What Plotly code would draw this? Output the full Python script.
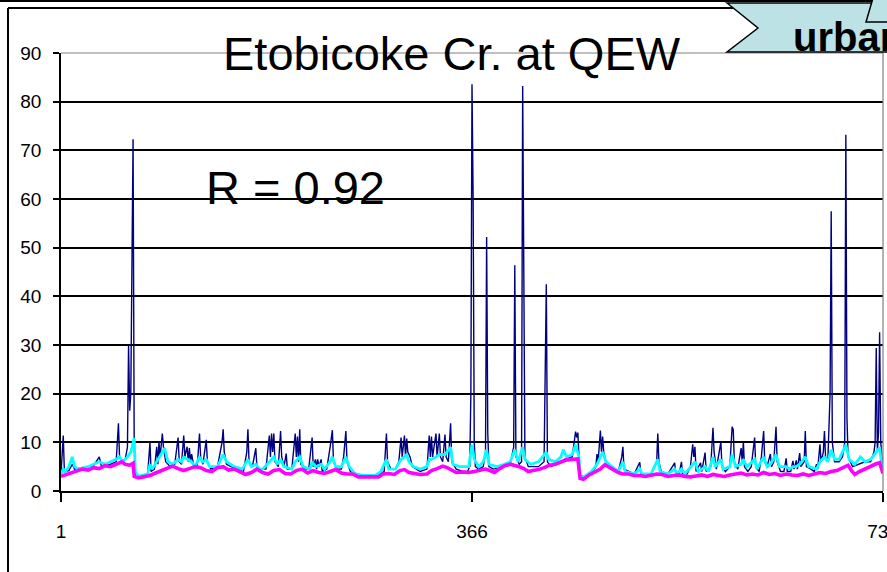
import plotly.graph_objects as go

# ---------------- data (day, flow) ----------------
observed = [
    (1, 3.5), (3, 11.4), (4, 4), (8, 4.2), (11, 5.5), (13, 4.5), (20, 4.8), (30, 5.2), (35, 7), (37, 5),
    (45, 5.5), (50, 6), (52, 13.9), (53, 7), (55, 6), (58, 6.5), (60, 9), (61, 30), (62, 16.5), (63, 20),
    (65, 72.3), (66, 10), (67, 3), (72, 3), (78, 3.5), (80, 10), (81, 4), (84, 4.5), (86, 9.1), (87, 5.5),
    (88, 10.1), (89, 7), (91, 11.8), (92, 9), (94, 6), (98, 5), (102, 5.5), (105, 11), (106, 6), (108, 5.5),
    (110, 11.4), (111, 7), (113, 9.1), (114, 6), (115, 8.8), (116, 6), (117, 7.6), (119, 5), (122, 5), (124, 11.8),
    (125, 7), (127, 5.5), (130, 10.5), (131, 6), (134, 4.5), (140, 5), (144, 10), (145, 12.7), (146, 8), (148, 5.5),
    (152, 5), (158, 4.5), (163, 4), (166, 8), (167, 12.7), (168, 6), (171, 5), (174, 8.8), (175, 5), (178, 4.5),
    (183, 4.5), (186, 11.4), (187, 7), (188, 11.8), (189, 8), (190, 11.8), (191, 6), (194, 5), (196, 12.3), (197, 7),
    (199, 5), (201, 7.7), (202, 4.5), (206, 4.5), (209, 11.8), (210, 7), (211, 11.2), (212, 6), (213, 12.7), (214, 5.5),
    (218, 4.5), (221, 4.5), (224, 11), (225, 5), (227, 6.5), (228, 4.5), (229, 6.5), (230, 5), (232, 6.5), (233, 4),
    (237, 4.5), (240, 9), (241, 11), (242, 12.5), (243, 6), (246, 4.5), (250, 4.5), (252, 7), (254, 12.3), (255, 6),
    (258, 4), (264, 3.5), (270, 3), (280, 3), (284, 3.5), (288, 4), (290, 11.8), (291, 6), (294, 4.5), (298, 4.5),
    (301, 6), (303, 11), (304, 7), (306, 11.4), (307, 7), (308, 10.8), (309, 8), (311, 7), (313, 5), (320, 4),
    (326, 4.5), (328, 11.4), (329, 7), (330, 11.2), (331, 7), (334, 11.8), (335, 7), (337, 11.8), (338, 7), (340, 6),
    (342, 11.6), (343, 7), (345, 6), (347, 13.9), (348, 6), (352, 4.5), (358, 4), (362, 4), (364, 5), (365, 20),
    (366, 83.6), (367, 60), (368, 10), (369, 5), (372, 4.5), (376, 5), (378, 8), (379, 52.2), (380, 12), (381, 5),
    (385, 4.5), (395, 5), (400, 5.5), (403, 9), (404, 46.4), (405, 7), (408, 5.5), (410, 6), (411, 83.2), (412, 30),
    (413, 7), (416, 5), (425, 5), (430, 6), (432, 42.5), (433, 6), (436, 5), (445, 6), (448, 6.5), (455, 7),
    (458, 12.2), (459, 11), (460, 12), (461, 7), (462, 3), (466, 2.5), (472, 3.5), (476, 5), (477, 7.6), (478, 6),
    (480, 12.4), (481, 8), (482, 11.2), (483, 8), (485, 6), (490, 5), (496, 4), (499, 7), (500, 9.1), (501, 4.5),
    (505, 4), (510, 3.5), (515, 5.9), (516, 3.5), (520, 3.2), (525, 3.5), (530, 6), (531, 11.8), (532, 6), (534, 4),
    (540, 3.5), (546, 5.8), (547, 3.5), (550, 3.5), (552, 6), (553, 3.5), (557, 3.5), (560, 5), (562, 9.6), (563, 7),
    (564, 9.1), (565, 4), (569, 5.8), (570, 4), (573, 7.9), (574, 4), (578, 5), (580, 13), (581, 8), (583, 4.5),
    (587, 10.1), (588, 5), (591, 4), (595, 5), (597, 13.2), (598, 12.6), (599, 6), (602, 4.5), (605, 8.8), (606, 6),
    (607, 10.1), (608, 5), (611, 4), (614, 5), (617, 11), (618, 5), (621, 4), (623, 7), (625, 12.3), (626, 6),
    (628, 5), (631, 7.6), (632, 5), (634, 6), (636, 13.2), (637, 6), (640, 4), (643, 4), (645, 6.7), (646, 4),
    (649, 4), (651, 6.2), (652, 4.5), (654, 6.3), (655, 4.5), (657, 7.8), (658, 5), (661, 6), (662, 12.3), (663, 5),
    (667, 4.5), (670, 4), (672, 5.5), (673, 4.5), (675, 9.6), (676, 6), (678, 8), (679, 12.3), (680, 7), (682, 6),
    (684, 20), (685, 57.5), (686, 10), (688, 6), (692, 6), (695, 7), (697, 10), (698, 73.2), (699, 15), (700, 7),
    (704, 5), (710, 5.5), (715, 6), (720, 6), (723, 8), (724, 10), (725, 29.4), (726, 8), (727, 12), (728, 32.6),
    (729, 10), (731, 4),
]

simulated = [
    (1, 3.5), (3, 4.5), (5, 4), (8, 5), (11, 7), (13, 5), (16, 4.5), (25, 5), (35, 6), (40, 5.5),
    (50, 6.5), (53, 7), (56, 6), (60, 7), (63, 8), (66, 10.9), (67, 4), (70, 3), (78, 3.5), (80, 5.5),
    (82, 4.5), (86, 6), (88, 7), (91, 8), (93, 8.8), (96, 6), (100, 5.5), (105, 6.5), (108, 6), (110, 7),
    (113, 6.5), (117, 6), (120, 5), (124, 7), (127, 6), (130, 6.5), (133, 5), (140, 5), (145, 7.5), (148, 6),
    (155, 5), (162, 4.5), (167, 6.5), (170, 5), (174, 5.5), (177, 4.5), (180, 4.5), (186, 6), (190, 7), (193, 5.5),
    (196, 6.5), (199, 5), (206, 4.5), (209, 6), (211, 6.5), (213, 7), (216, 5), (222, 4.5), (224, 6), (227, 5),
    (232, 5.5), (235, 4.5), (240, 6), (242, 7), (245, 5), (250, 5), (254, 7), (257, 5), (262, 3.5), (270, 3.2),
    (280, 3.2), (285, 4), (290, 6.5), (292, 4.5), (298, 4.5), (303, 6.5), (306, 7), (308, 7.5), (310, 6), (314, 5),
    (320, 4.5), (326, 5), (328, 6.5), (330, 6.5), (334, 7), (337, 7.5), (342, 7.5), (347, 9), (349, 5.5), (355, 5),
    (363, 5), (366, 9.5), (368, 6.5), (372, 5), (376, 6), (379, 8.5), (381, 5.5), (388, 5), (395, 5.5), (400, 6),
    (404, 8.5), (407, 6), (411, 9), (413, 6.5), (418, 5.5), (425, 6), (432, 8), (434, 6.5), (440, 6), (445, 7),
    (447, 8.5), (450, 7), (455, 7.5), (458, 9.5), (461, 7), (462, 3), (466, 3), (472, 4), (477, 5.5), (480, 7),
    (482, 8), (485, 6), (490, 5), (496, 4), (500, 6), (502, 4), (510, 3.5), (515, 4.5), (517, 3.5), (525, 3.5),
    (531, 6.5), (533, 4), (540, 3.5), (546, 4.5), (548, 3.5), (552, 4.5), (555, 3.5), (562, 5.5), (564, 6), (567, 4),
    (573, 5), (576, 4), (580, 7), (582, 5), (587, 6.5), (589, 4.5), (595, 5), (597, 7.5), (600, 5), (605, 5.5),
    (607, 6.5), (610, 5), (617, 6.5), (619, 4.5), (625, 7), (628, 5), (631, 5.5), (636, 7.5), (639, 5), (645, 5),
    (648, 4.5), (651, 5), (654, 5), (657, 5.5), (662, 7), (665, 5), (672, 4.5), (675, 6), (679, 7), (682, 6),
    (685, 8.5), (688, 6.5), (692, 6.5), (698, 9.5), (701, 6.5), (706, 5.5), (711, 7), (715, 6), (720, 6.5), (725, 8),
    (728, 9), (730, 5), (731, 4),
]

baseflow = [
    (1, 3), (5, 3.3), (10, 3.8), (15, 4.2), (20, 4.5), (25, 4.3), (30, 4.8), (35, 4.6), (40, 5.2), (45, 5),
    (50, 5.6), (55, 6), (58, 5.5), (62, 5.3), (65, 5.7), (66, 3), (70, 2.7), (75, 3), (80, 3.2), (85, 3.7),
    (90, 4.2), (95, 4.5), (100, 5.1), (105, 4.6), (110, 4.2), (115, 4.6), (120, 5), (125, 4.8), (130, 4.2), (135, 4),
    (140, 4.8), (145, 5), (150, 4.3), (155, 4.5), (160, 4), (165, 3.4), (170, 3.8), (175, 4.5), (180, 3.8), (185, 3.5),
    (190, 4.2), (195, 4.4), (200, 3.6), (205, 3.5), (210, 4.2), (215, 4.5), (220, 3.7), (225, 4.2), (230, 3.8), (235, 3.6),
    (240, 4), (245, 4.4), (250, 3.7), (255, 3.5), (260, 3.5), (265, 2.9), (275, 2.9), (283, 2.9), (287, 3.5), (292, 3.6),
    (297, 3.4), (302, 4.2), (306, 4.4), (310, 3.8), (315, 3.6), (320, 3.4), (326, 3.5), (330, 4.2), (335, 4.6), (340, 5.1),
    (344, 4.8), (348, 4.2), (352, 3.8), (358, 3.9), (363, 3.8), (368, 4), (372, 4.2), (378, 4.5), (382, 4.2), (386, 3.8),
    (390, 4.5), (395, 5.2), (400, 5.5), (405, 5.3), (408, 5), (412, 4.6), (416, 4), (420, 4.2), (425, 4.4), (430, 4.8),
    (435, 5.3), (440, 5.5), (445, 6), (450, 6.4), (455, 6.5), (460, 6.6), (462, 2.6), (465, 2.4), (470, 3.3), (475, 3.8),
    (480, 4.5), (484, 5.4), (488, 4.8), (492, 4.2), (496, 3.8), (500, 3.5), (505, 3.5), (510, 3.2), (515, 3.2), (520, 3),
    (525, 3.2), (530, 3.5), (535, 3.4), (540, 3), (545, 3.2), (550, 3.3), (555, 3), (560, 2.9), (565, 3.1), (570, 3.3),
    (575, 3), (580, 3.4), (585, 3.2), (590, 3), (595, 3.3), (600, 3.5), (605, 3.7), (610, 3.3), (615, 3.5), (620, 3.3),
    (625, 3.8), (630, 3.4), (635, 3.6), (640, 3.2), (645, 3.5), (650, 3.3), (655, 3.2), (660, 3.5), (665, 3.2), (670, 3.5),
    (675, 3.8), (680, 3.6), (685, 4), (690, 4.2), (695, 4.8), (700, 5.3), (703, 4.2), (706, 3.4), (710, 4), (715, 4.6),
    (720, 5), (725, 5.6), (728, 5.8), (730, 4), (731, 3.6),
]

x_ticks = [1, 366, 731]
y_ticks = [0, 10, 20, 30, 40, 50, 60, 70, 80, 90]
title_text = "Etobicoke Cr. at QEW"
r_text = "R = 0.92"
badge_text = "urban"

# ---------------- layout helpers (pixel -> paper) ----------------
W, H = 887, 572
L, R, T, B = 61, 883, 53, 491


def px(x):
    return (x - L) / (R - L)


def py(y):
    return (B - y) / (B - T)


fig = go.Figure()
for series, color, width in [(observed, "#000080", 1.4), (simulated, "#00FFFF", 2.8), (baseflow, "#FF00FF", 3.6)]:
    fig.add_trace(go.Scatter(
        x=[d for d, _ in series], y=[v for _, v in series], mode="lines",
        line=dict(color=color, width=width), showlegend=False, hoverinfo="skip"))

tick_font = dict(family="Liberation Sans, Arial", size=19, color="black")

fig.update_layout(
    width=W, height=H,
    margin=dict(l=L, r=W - R, t=T, b=H - B, autoexpand=False),
    paper_bgcolor="white", plot_bgcolor="white",
    xaxis=dict(range=[1, 731], tickvals=x_ticks, ticktext=[str(v) for v in x_ticks],
               showgrid=False, zeroline=False, showline=True, linecolor="black", linewidth=1.5,
               ticks="outside", ticklen=9, tickwidth=1.5, tickcolor="black",
               tickfont=tick_font, ticklabelstandoff=13, ticklabeloverflow="allow"),
    yaxis=dict(range=[0, 90], tickvals=y_ticks, showgrid=True, gridcolor="black", gridwidth=1.5,
               zeroline=False, showline=True, linecolor="black", linewidth=1.5,
               ticks="outside", ticklen=6, tickwidth=1.5, tickcolor="black",
               tickfont=tick_font, ticklabelstandoff=8),
    font=dict(family="Liberation Sans, Arial", color="black"),
)

# plot area border (top / right, gray)
fig.add_shape(type="line", xref="paper", yref="paper", x0=0, x1=1, y0=1, y1=1,
              line=dict(color="#808080", width=1.2), layer="above")
fig.add_shape(type="line", xref="paper", yref="paper", x0=1, x1=1, y0=0, y1=1,
              line=dict(color="#808080", width=1.2), layer="above")

# outer frames
fig.add_shape(type="line", xref="paper", yref="paper", x0=px(0), x1=px(887), y0=py(1), y1=py(1),
              line=dict(color="black", width=2))
fig.add_shape(type="line", xref="paper", yref="paper", x0=px(8), x1=px(887), y0=py(8), y1=py(8),
              line=dict(color="black", width=2))
fig.add_shape(type="line", xref="paper", yref="paper", x0=px(8), x1=px(8), y0=py(8), y1=py(575),
              line=dict(color="black", width=2))

# callout badge
fig.add_shape(type="path", xref="paper", yref="paper",
              path=f"M {px(727)} {py(3)} L {px(758)} {py(28)} L {px(727)} {py(52)} L {px(890)} {py(52)} L {px(890)} {py(3)} Z",
              fillcolor="#BCE2E6", line=dict(color="black", width=1.5))
fig.add_shape(type="path", xref="paper", yref="paper",
              path=f"M {px(866)} {py(22)} L {px(873)} {py(-2)} L {px(890)} {py(-2)} L {px(890)} {py(22)} Z",
              fillcolor="#BCE2E6", line=dict(color="black", width=1.5))

fig.add_annotation(text=f"<b>{badge_text}</b>", xref="paper", yref="paper", x=px(791), y=py(37),
                   xanchor="left", yanchor="middle", showarrow=False,
                   font=dict(family="Liberation Sans, Arial", size=40, color="black"))

fig.add_annotation(text=title_text, xref="paper", yref="paper", x=px(452), y=py(53),
                   xanchor="center", yanchor="middle", showarrow=False,
                   font=dict(family="Liberation Sans, Arial", size=47, color="black"))
fig.add_annotation(text=r_text, xref="paper", yref="paper", x=px(295), y=py(187),
                   xanchor="center", yanchor="middle", showarrow=False,
                   font=dict(family="Liberation Sans, Arial", size=47, color="black"))

fig.write_html("out.html", config={"displayModeBar": False},
               post_script="document.body.style.margin='0';document.body.style.overflow='hidden';")
